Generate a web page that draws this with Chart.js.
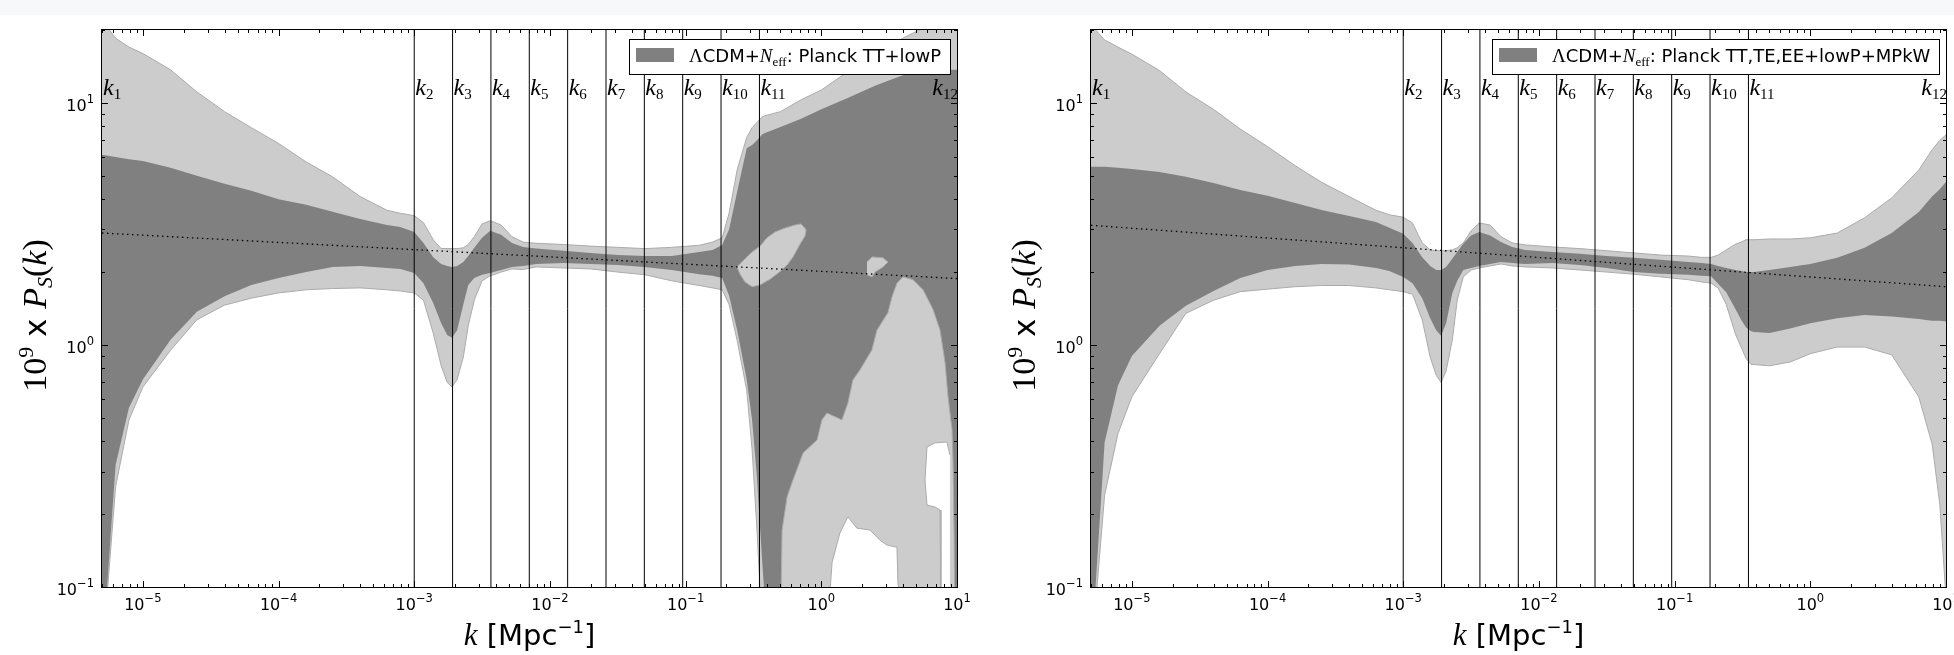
<!DOCTYPE html>
<html>
<head>
<meta charset="utf-8">
<title>Power spectrum reconstruction</title>
<script src="https://cdn.jsdelivr.net/npm/chart.js"></script>
<style>
  html, body { margin: 0; padding: 0; background: #fff; overflow: hidden; }
  #strip { position: absolute; left: 0; top: 0; width: 1954px; height: 15px; background: #f7f8fa; }
  canvas { position: absolute; top: 0; }
  #panel-tt { left: 0; }
  #panel-mpk { left: 989px; }
</style>
</head>
<body>
<div id="strip"></div>
<canvas id="panel-tt" width="985" height="655"></canvas>
<canvas id="panel-mpk" width="985" height="655"></canvas>
<script>
const kMin = 5e-6;
const kMax = 10;
const pMin = 0.1;
const pMax = 20;

const kGrid = [5.0e-6, 6.3e-6, 7.9e-6, 1.0e-5, 1.6e-5, 2.5e-5, 4.0e-5, 6.3e-5, 1.0e-4, 1.6e-4, 2.5e-4, 4.0e-4, 6.3e-4, 7.9e-4, 1.0e-3,
	1.17e-3, 1.38e-3, 1.58e-3, 1.75e-3, 1.9e-3, 2.07e-3, 2.3e-3, 2.5e-3, 2.77e-3, 3.16e-3, 3.63e-3, 4.37e-3, 5.25e-3, 6.35e-3, 7.9e-3,
	0.0126, 0.02, 0.0316, 0.05, 0.079, 0.126, 0.158, 0.186, 0.209, 0.24, 0.282, 0.309, 0.336, 0.366, 0.385,
	0.5, 0.71, 1.0, 1.58, 2.51, 3.98, 6.3, 7.9, 9.0, 10];

// Planck TT+lowP
const ttLightUpper = [22, 18.5, 17, 16, 13.7, 11.1, 9.2, 7.9, 6.8, 5.7, 4.95, 4.1, 3.6, 3.5, 3.42,
	3.2, 2.72, 2.5, 2.5, 2.5, 2.5, 2.52, 2.6, 2.8, 3.16, 3.26, 3.13, 2.8, 2.66, 2.63,
	2.6, 2.56, 2.53, 2.5, 2.53, 2.58, 2.66, 2.77, 3.5, 5.3, 7.2, 7.9, 8.3, 8.75, 8.85,
	9.2, 10.3, 11.3, 13.5, 16, 18.5, 21, 22, 23, 23];
const ttDarkUpper = [6.1, 5.97, 5.85, 5.75, 5.39, 5.0, 4.63, 4.33, 4.0, 3.79, 3.55, 3.31, 3.13, 3.07, 2.93,
	2.64, 2.3, 2.16, 2.12, 2.1, 2.12, 2.2, 2.33, 2.52, 2.77, 2.96, 2.85, 2.64, 2.54, 2.5,
	2.45, 2.4, 2.35, 2.33, 2.33, 2.42, 2.47, 2.59, 3.0, 4.3, 6.5, 6.7, 7.0, 7.4, 7.5,
	7.95, 8.6, 9.4, 10.5, 11.8, 13.0, 13.4, 13.5, 13.7, 13.7];
const ttDarkLower = [0.05, 0.32, 0.55, 0.72, 1.05, 1.37, 1.59, 1.77, 1.89, 2.0, 2.1, 2.12, 2.08, 2.06, 1.98,
	1.8, 1.49, 1.23, 1.10, 1.07, 1.15, 1.47, 1.77, 1.89, 1.95, 1.98, 2.04, 2.1, 2.12, 2.16,
	2.18, 2.16, 2.14, 2.1, 2.04, 1.96, 1.93, 1.89, 1.6, 1.15, 0.72, 0.49, 0.28, 0.13, 0.085,
	0.05, 0.05, 0.05, 0.05, 0.05, 0.05, 0.05, 0.05, 0.05, 0.05];
const ttLightLower = [0.05, 0.26, 0.49, 0.67, 0.95, 1.27, 1.46, 1.56, 1.64, 1.69, 1.71, 1.72, 1.69, 1.67, 1.64,
	1.53, 1.12, 0.82, 0.70, 0.67, 0.72, 0.89, 1.20, 1.53, 1.84, 1.93, 2.0, 2.06, 2.05, 2.1,
	2.08, 2.06, 2.0, 1.95, 1.84, 1.76, 1.72, 1.69, 1.47, 1.04, 0.65, 0.37, 0.17, 0.07, 0.05,
	0.05, 0.05, 0.05, 0.05, 0.05, 0.05, 0.05, 0.05, 0.05, 0.05];

// light islands inside the dark region (TT+lowP, high k)
const islandATopK = [0.239, 0.274, 0.309, 0.354, 0.398, 0.456, 0.541, 0.641, 0.71, 0.773];
const islandATopP = [2.10, 2.27, 2.42, 2.56, 2.77, 2.93, 3.04, 3.13, 3.16, 2.99];
const islandABottomK = [0.239, 0.252, 0.274, 0.309, 0.354, 0.419, 0.497, 0.56, 0.619, 0.697, 0.759, 0.773];
const islandABottomP = [2.10, 1.96, 1.82, 1.74, 1.77, 1.87, 2.01, 2.14, 2.31, 2.61, 2.82, 2.99];
const islandBTopK = [2.17, 2.37, 2.85, 3.10];
const islandBTopP = [2.20, 2.31, 2.29, 2.20];
const islandBBottomK = [2.17, 2.37, 2.49, 2.85, 3.10];
const islandBBottomP = [1.95, 1.91, 2.0, 2.10, 2.20];
const mountainK = [0.497, 0.514, 0.56, 0.619, 0.734, 0.931, 1.01, 1.10, 1.42, 1.57, 1.71, 1.93, 2.36, 2.57,
	3.10, 3.32, 3.61, 4.0, 4.74, 5.62, 6.66, 7.5, 8.17, 8.59, 9.19, 9.35, 9.51, 9.67];
const mountainP = [0.05, 0.172, 0.236, 0.277, 0.358, 0.405, 0.49, 0.523, 0.49, 0.575, 0.716, 0.789, 0.953, 1.15,
	1.36, 1.58, 1.80, 1.91, 1.86, 1.69, 1.40, 1.15, 0.843, 0.61, 0.446, 0.325, 0.172, 0.05];
// empty (white) parts inside the light region
const holeDK = [1.07, 1.20, 1.37, 1.57, 1.83, 2.28, 2.71, 3.05, 3.61, 3.67, 4.28];
const holeDP = [0.05, 0.126, 0.167, 0.195, 0.175, 0.172, 0.156, 0.149, 0.146, 0.104, 0.05];
const holeETopK = [5.81, 6.01, 6.89, 8.44, 8.87];
const holeETopP = [0.277, 0.379, 0.394, 0.397, 0.351];
const holeEBottomK = [5.81, 6.01, 6.89, 7.5, 7.62, 8.87];
const holeEBottomP = [0.277, 0.218, 0.214, 0.208, 0.05, 0.05];

// Planck TT,TE,EE+lowP+MPkW
const mpkLightUpper = [21, 18.2, 17.0, 15.9, 13.6, 11.1, 9.4, 7.8, 6.6, 5.5, 4.7, 4.1, 3.6, 3.45, 3.37,
	3.19, 2.64, 2.47, 2.45, 2.45, 2.45, 2.47, 2.52, 2.64, 2.96, 3.19, 3.13, 2.8, 2.64, 2.59,
	2.54, 2.5, 2.45, 2.4, 2.35, 2.33, 2.3, 2.3, 2.35, 2.47, 2.61, 2.66, 2.72, 2.72, 2.72,
	2.74, 2.74, 2.77, 2.9, 3.35, 4.05, 5.28, 6.4, 7.0, 7.38];
const mpkDarkUpper = [5.44, 5.44, 5.39, 5.33, 5.18, 4.95, 4.67, 4.37, 4.13, 3.86, 3.61, 3.41, 3.22, 3.05, 2.88,
	2.64, 2.3, 2.12, 2.04, 2.04, 2.1, 2.27, 2.42, 2.62, 2.83, 2.93, 2.83, 2.66, 2.54, 2.47,
	2.42, 2.38, 2.33, 2.29, 2.25, 2.2, 2.18, 2.16, 2.12, 2.08, 2.04, 2.02, 2.0, 2.0, 2.0,
	2.04, 2.1, 2.16, 2.29, 2.52, 2.9, 3.54, 4.1, 4.4, 4.72];
const mpkDarkLower = [0.05, 0.395, 0.68, 0.90, 1.2, 1.45, 1.67, 1.89, 2.04, 2.12, 2.16, 2.15, 2.08, 2.02, 1.91,
	1.8, 1.56, 1.29, 1.15, 1.09, 1.23, 1.64, 1.84, 2.04, 2.08, 2.12, 2.16, 2.2, 2.18, 2.16,
	2.18, 2.14, 2.08, 2.0, 1.97, 1.95, 1.93, 1.92, 1.79, 1.65, 1.40, 1.27, 1.18, 1.14, 1.13,
	1.12, 1.17, 1.23, 1.29, 1.33, 1.31, 1.28, 1.26, 1.26, 1.25];
const mpkLightLower = [0.05, 0.24, 0.43, 0.61, 0.92, 1.35, 1.53, 1.66, 1.7, 1.74, 1.76, 1.76, 1.72, 1.69, 1.66,
	1.62, 1.27, 0.89, 0.75, 0.70, 0.78, 1.05, 1.53, 1.91, 2.04, 2.08, 2.12, 2.16, 2.12, 2.1,
	2.08, 2.04, 2.0, 1.96, 1.91, 1.86, 1.82, 1.8, 1.72, 1.47, 1.10, 0.98, 0.88, 0.83, 0.83,
	0.82, 0.85, 0.92, 0.98, 0.98, 0.91, 0.61, 0.39, 0.22, 0.09];

// best-fit power law (dotted), value at kMin and kMax
const ttPowerLaw = [2.90, 1.88];
const mpkPowerLaw = [3.12, 1.74];

const knots = [5e-6, 0.001, 0.001917, 0.003675, 0.007045, 0.01351, 0.0259, 0.04964, 0.09516, 0.1824, 0.35, 10];

const xMajorTicks = [1e-5, 1e-4, 1e-3, 1e-2, 1e-1, 1, 10];
const xMajorLabels = ['10^−5', '10^−4', '10^−3', '10^−2', '10^−1', '10^0', '10^1'];
const yMajorTicks = [0.1, 1, 10];
const yMajorLabels = ['10^−1', '10^0', '10^1'];

const ttLegend = 'ΛCDM+N_eff: Planck TT+lowP';
const mpkLegend = 'ΛCDM+N_eff: Planck TT,TE,EE+lowP+MPkW';

const LIGHT = '#cccccc';
const DARK = '#808080';
const EDGE = '#ababab';
const SANS = '"DejaVu Sans", sans-serif';
const SERIF = '"Liberation Serif", "DejaVu Serif", serif';


function pts(xs, ys) {
	return xs.map((x, i) => ({ x: x, y: ys[i] }));
}

// all decade ticks plus the 2..9 minors between lo and hi
function logTicks(lo, hi) {
	let out = [];
	for (let e = -7; e <= 2; e++) {
		for (let m = 1; m <= 9; m++) {
			let v = m * Math.pow(10, e);
			if (m == 1) v = Math.pow(10, e);
			if (v >= lo * 0.999 && v <= hi * 1.001) out.push(v);
		}
	}
	return out;
}

function majorIndex(v, majors) {
	return majors.findIndex(m => Math.abs(v / m - 1) < 1e-6);
}

function measureParts(ctx, parts) {
	let w = 0;
	for (let p of parts) {
		ctx.font = p.font;
		w += ctx.measureText(p.t).width;
	}
	return w;
}

function drawParts(ctx, parts, x, y) {
	for (let p of parts) {
		ctx.font = p.font;
		ctx.fillText(p.t, x, y + (p.dy || 0));
		x += ctx.measureText(p.t).width;
	}
	return x;
}

function tickParts(label) {
	let [base, exp] = label.split('^');
	return [
		{ t: base, font: '16px ' + SANS },
		{ t: exp, font: '11.5px ' + SANS, dy: -8 }
	];
}

function legendParts(text) {
	let [head, tail] = text.split('N_eff');
	return [
		{ t: head.slice(0, 1), font: '19px ' + SERIF },
		{ t: head.slice(1), font: '18px ' + SANS },
		{ t: 'N', font: 'italic 19px ' + SERIF },
		{ t: 'eff', font: '13px ' + SERIF, dy: 4 },
		{ t: tail, font: '18px ' + SANS }
	];
}


const framePlugin = {
	id: 'frame',
	afterDatasetsDraw(chart) {
		const { ctx, chartArea: a, scales } = chart;
		ctx.save();
		ctx.strokeStyle = '#000';
		ctx.lineWidth = 1;
		ctx.beginPath();
		for (let t of scales.x.ticks) {
			let px = Math.round(scales.x.getPixelForValue(t.value)) + 0.5;
			let len = majorIndex(t.value, xMajorTicks) >= 0 ? 6 : 3;
			ctx.moveTo(px, a.bottom); ctx.lineTo(px, a.bottom - len);
			ctx.moveTo(px, a.top); ctx.lineTo(px, a.top + len);
		}
		for (let t of scales.y.ticks) {
			let py = Math.round(scales.y.getPixelForValue(t.value)) + 0.5;
			let len = majorIndex(t.value, yMajorTicks) >= 0 ? 6 : 3;
			ctx.moveTo(a.left, py); ctx.lineTo(a.left + len, py);
			ctx.moveTo(a.right, py); ctx.lineTo(a.right - len, py);
		}
		ctx.stroke();
		ctx.strokeRect(a.left - 0.5, a.top - 0.5, a.right - a.left + 1, a.bottom - a.top + 1);
		ctx.restore();
	},
	afterDraw(chart) {
		// tick labels with a real superscript exponent
		const { ctx, chartArea: a, scales } = chart;
		ctx.save();
		ctx.fillStyle = '#000';
		ctx.textAlign = 'left';
		ctx.textBaseline = 'alphabetic';
		xMajorTicks.forEach((v, i) => {
			let parts = tickParts(xMajorLabels[i]);
			let w = measureParts(ctx, parts);
			drawParts(ctx, parts, scales.x.getPixelForValue(v) - w / 2, a.bottom + 23);
		});
		yMajorTicks.forEach((v, i) => {
			let parts = tickParts(yMajorLabels[i]);
			let w = measureParts(ctx, parts);
			drawParts(ctx, parts, a.left - 8 - w, scales.y.getPixelForValue(v) + 8);
		});
		ctx.restore();
	}
};

const knotPlugin = {
	id: 'knotLabels',
	afterDatasetsDraw(chart) {
		const { ctx, chartArea: a } = chart;
		const xs = chart.scales.x;
		const kFont = 'italic 24px ' + SERIF;
		const subFont = '15px ' + SERIF;
		ctx.save();
		ctx.beginPath();
		ctx.rect(a.left, a.top, a.right - a.left, a.bottom - a.top);
		ctx.clip();
		ctx.fillStyle = '#000';
		ctx.textAlign = 'left';
		ctx.textBaseline = 'alphabetic';
		knots.forEach((k, i) => {
			let sub = String(i + 1);
			ctx.font = kFont;
			let kw = ctx.measureText('k').width;
			ctx.font = subFont;
			let sw = ctx.measureText(sub).width;
			let px = xs.getPixelForValue(k) + 1;
			if (i == knots.length - 1) px = a.right - kw - sw + 1;
			drawParts(ctx, [{ t: 'k', font: kFont }, { t: sub, font: subFont, dy: 4 }], px, a.top + 65);
		});
		ctx.restore();
	}
};

const legendPlugin = {
	id: 'panelLegend',
	afterDraw(chart, args, opts) {
		const { ctx, chartArea: a } = chart;
		const parts = legendParts(opts.text);
		ctx.save();
		ctx.textAlign = 'left';
		ctx.textBaseline = 'alphabetic';
		let tw = measureParts(ctx, parts);
		let w = Math.round(7 + 38 + 15 + tw + 9);
		let x0 = Math.round(a.right - 7 - w);
		let y0 = Math.round(a.top + 9);
		ctx.fillStyle = '#fff';
		ctx.fillRect(x0, y0, w, 35);
		ctx.strokeStyle = '#000';
		ctx.lineWidth = 1;
		ctx.strokeRect(x0 + 0.5, y0 + 0.5, w, 35);
		ctx.fillStyle = DARK;
		ctx.fillRect(x0 + 7, y0 + 9, 38, 14);
		ctx.fillStyle = '#000';
		drawParts(ctx, parts, x0 + 60, y0 + 23);
		ctx.restore();
	}
};

const titlePlugin = {
	id: 'axisTitles',
	afterDraw(chart) {
		const { ctx, chartArea: a } = chart;
		ctx.save();
		ctx.fillStyle = '#000';
		ctx.textAlign = 'left';
		ctx.textBaseline = 'alphabetic';
		let xParts = [
			{ t: 'k', font: 'italic 31px ' + SERIF },
			{ t: ' [Mpc', font: '29px ' + SANS },
			{ t: '−1', font: '18px ' + SANS, dy: -12 },
			{ t: ']', font: '29px ' + SANS }
		];
		let w = measureParts(ctx, xParts);
		drawParts(ctx, xParts, (a.left + a.right) / 2 - w / 2, 645);

		let yParts = [
			{ t: '10', font: '34px ' + SERIF },
			{ t: '9', font: '22px ' + SERIF, dy: -13 },
			{ t: ' x ', font: '31px ' + SANS },
			{ t: 'P', font: 'italic 34px ' + SERIF },
			{ t: 'S', font: 'italic 22px ' + SERIF, dy: 6 },
			{ t: '(', font: '34px ' + SERIF },
			{ t: 'k', font: 'italic 34px ' + SERIF },
			{ t: ')', font: '34px ' + SERIF }
		];
		w = measureParts(ctx, yParts);
		ctx.translate(46, (a.top + a.bottom) / 2 + 7);
		ctx.rotate(-Math.PI / 2);
		drawParts(ctx, yParts, -w / 2, 0);
		ctx.restore();
	}
};


function buildDatasets(p) {
	let ds = [];
	function band(upper, lower, color, edge, order) {
		let idx = ds.length;
		ds.push({ label: p.legend, data: upper, fill: idx + 1, backgroundColor: color,
			borderColor: edge || 'transparent', borderWidth: edge ? 1 : 0, order: order });
		ds.push({ data: lower, fill: false, borderColor: edge || 'transparent',
			borderWidth: edge ? 1 : 0, order: order - 0.5 });
	}

	band(pts(kGrid, p.lightUpper), pts(kGrid, p.lightLower), LIGHT, EDGE, 10);
	band(pts(kGrid, p.darkUpper), pts(kGrid, p.darkLower), DARK, null, 8);

	if (p.islands) {
		band(pts(islandATopK, islandATopP), pts(islandABottomK, islandABottomP), LIGHT, EDGE, 6);
		band(pts(islandBTopK, islandBTopP), pts(islandBBottomK, islandBBottomP), LIGHT, EDGE, 6);
		ds.push({ data: pts(mountainK, mountainP), fill: 'start', backgroundColor: LIGHT,
			borderColor: EDGE, borderWidth: 1, order: 6 });
		ds.push({ data: pts(holeDK, holeDP), fill: 'start', backgroundColor: '#fff',
			borderColor: EDGE, borderWidth: 1, order: 4 });
		band(pts(holeETopK, holeETopP), pts(holeEBottomK, holeEBottomP), '#fff', EDGE, 4);
	}

	ds.push({ data: [{ x: kMin, y: p.powerLaw[0] }, { x: kMax, y: p.powerLaw[1] }], fill: false,
		borderColor: '#000', borderWidth: 1.3, borderDash: [1.5, 3.5], order: 2 });

	let knotLines = [];
	for (let k of knots.slice(1, knots.length - 1)) {
		knotLines.push({ x: k, y: pMin }, { x: k, y: pMax }, { x: k, y: null });
	}
	ds.push({ data: knotLines, fill: false, borderColor: '#000', borderWidth: 1, spanGaps: false, order: 1 });
	return ds;
}

function drawPanel(id, p) {
	const xTicks = logTicks(kMin, kMax);
	const yTicks = logTicks(pMin, pMax);
	return new Chart(document.getElementById(id), {
		type: 'line',
		data: { datasets: buildDatasets(p) },
		options: {
			responsive: false,
			animation: false,
			devicePixelRatio: 1,
			events: [],
			layout: { padding: { top: 30, right: 28, left: 0, bottom: 0 } },
			elements: { point: { radius: 0 }, line: { tension: 0 } },
			plugins: {
				legend: { display: false },
				tooltip: { enabled: false },
				panelLegend: { text: p.legend }
			},
			scales: {
				x: {
					type: 'logarithmic',
					min: kMin,
					max: kMax,
					grid: { display: false, drawTicks: false },
					border: { display: false },
					afterBuildTicks: (s) => { s.ticks = xTicks.map(v => ({ value: v })); },
					afterFit: (s) => { s.height = 68; },
					ticks: { display: false, autoSkip: false }
				},
				y: {
					type: 'logarithmic',
					min: pMin,
					max: pMax,
					grid: { display: false, drawTicks: false },
					border: { display: false },
					afterBuildTicks: (s) => { s.ticks = yTicks.map(v => ({ value: v })); },
					afterFit: (s) => { s.width = 102; },
					ticks: { display: false, autoSkip: false }
				}
			}
		},
		plugins: [framePlugin, knotPlugin, legendPlugin, titlePlugin]
	});
}


window.addEventListener("DOMContentLoaded", () => {
	drawPanel('panel-tt', {
		legend: ttLegend,
		lightUpper: ttLightUpper, lightLower: ttLightLower,
		darkUpper: ttDarkUpper, darkLower: ttDarkLower,
		powerLaw: ttPowerLaw,
		islands: true
	});
	drawPanel('panel-mpk', {
		legend: mpkLegend,
		lightUpper: mpkLightUpper, lightLower: mpkLightLower,
		darkUpper: mpkDarkUpper, darkLower: mpkDarkLower,
		powerLaw: mpkPowerLaw,
		islands: false
	});
});
</script>
</body>
</html>
